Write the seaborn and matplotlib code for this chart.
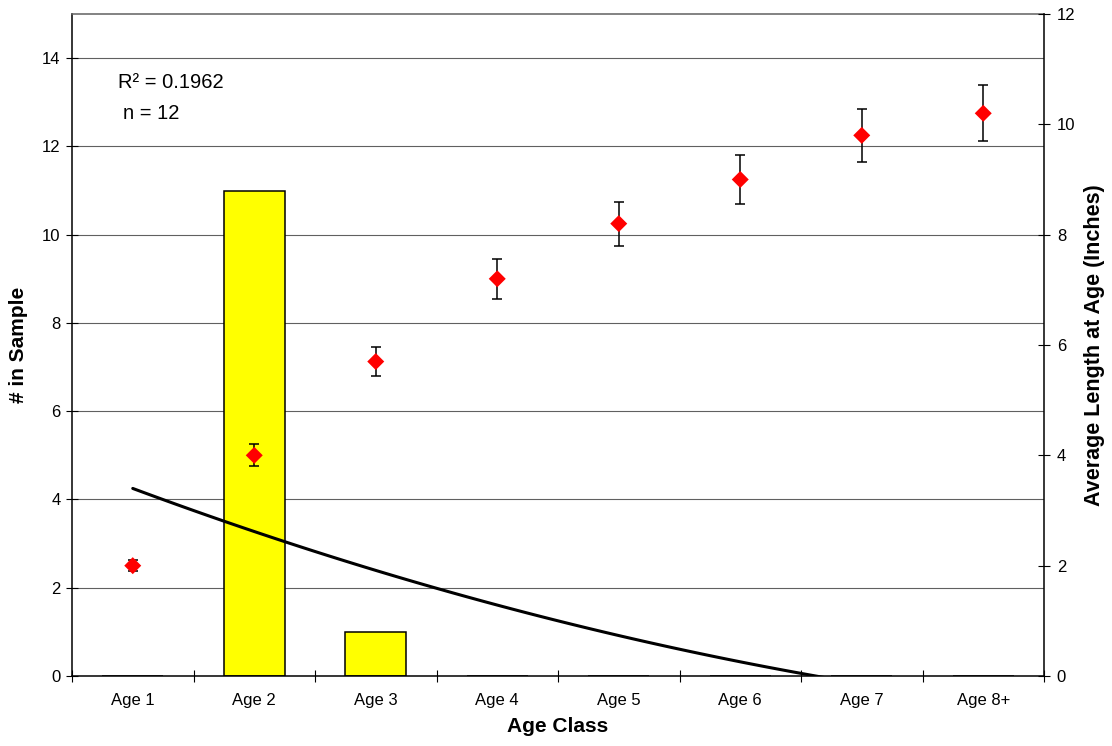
import numpy as np
import pandas as pd
import matplotlib.pyplot as plt
import seaborn as sns

# Age classes and sample counts (left axis)
ages = ['Age 1', 'Age 2', 'Age 3', 'Age 4', 'Age 5', 'Age 6', 'Age 7', 'Age 8+']
counts = [0, 11, 1, 0, 0, 0, 0, 0]

# Average length at age (right axis) with error
mean_length = [2.0, 4.0, 5.7, 7.2, 8.2, 9.0, 9.8, 10.2]
length_err = [0.1, 0.2, 0.27, 0.36, 0.4, 0.45, 0.48, 0.51]

r_squared = 0.1962
n_fish = 12

sns.set_style('white')
plt.rcParams['font.family'] = ['Liberation Sans', 'DejaVu Sans']
plt.rcParams.update({'text.color': 'black', 'axes.labelcolor': 'black',
                     'xtick.color': 'black', 'ytick.color': 'black'})

df = pd.DataFrame({
    'age': ages,
    'pos': np.arange(len(ages)),
    'count': counts,
    'length': mean_length,
    'err': length_err,
})

fig = plt.figure(figsize=(11.12, 7.46), dpi=100)
ax = fig.add_axes([72 / 1112, 70 / 746, 972 / 1112, 662 / 746])

# Bars + 2nd order trendline on counts
sns.barplot(data=df, x='age', y='count', color='#FFFF00', saturation=1,
            edgecolor='black', linewidth=1.1, width=0.5, errorbar=None,
            ax=ax, zorder=2)
sns.regplot(data=df, x='pos', y='count', order=2, ci=None, scatter=False,
            truncate=True, color='black', line_kws={'lw': 2.2, 'zorder': 3},
            ax=ax)

ax.set_xlim(-0.5, len(ages) - 0.5)
ax.set_ylim(0, 15)
ax.set_yticks(range(0, 15, 2))
ax.set_xticks(range(len(ages)))
ax.set_xticklabels(ages)
ax.set_xticks(np.arange(-0.5, len(ages), 1), minor=True)

ax.yaxis.grid(True, color='#606060', lw=0.8)
ax.set_axisbelow(True)

ax.tick_params(axis='y', left=True, direction='inout', length=8.5, width=0.8,
               color='black', labelsize=12, pad=4)
ax.tick_params(axis='x', which='major', bottom=True, length=0, pad=12,
               labelsize=12)
ax.tick_params(axis='x', which='minor', bottom=True, direction='inout',
               length=8, width=0.8, color='black')

for side in ['left', 'bottom']:
    ax.spines[side].set_color('black')
    ax.spines[side].set_linewidth(1.1)
ax.spines['top'].set_color('#606060')
ax.spines['top'].set_linewidth(1.1)
ax.spines['right'].set_visible(False)

ax.set_xlabel('Age Class', fontsize=15, fontweight='bold', labelpad=7)
ax.set_ylabel('# in Sample', fontsize=15, fontweight='bold', labelpad=10)

ax.text(0.047, 0.897, f'R\u00b2 = {r_squared}', transform=ax.transAxes,
        fontsize=14.5, va='center')
ax.text(0.0525, 0.849, f'n = {n_fish}', transform=ax.transAxes,
        fontsize=14.5, va='center')

# Length at age on secondary axis
ax2 = ax.twinx()
ax2.errorbar(df['pos'], df['length'], yerr=df['err'], fmt='none',
             ecolor='black', elinewidth=1.1, capsize=3.5, capthick=1.1,
             zorder=3)
sns.scatterplot(data=df, x='pos', y='length', marker='D', color='red', s=75,
                edgecolor='none', ax=ax2, zorder=4)
ax2.set_ylim(0, 12)
ax2.set_yticks(range(0, 13, 2))
ax2.tick_params(axis='y', right=True, direction='inout', length=8.5,
                width=0.8, color='black', labelsize=12, pad=5)
for side in ['left', 'bottom', 'top']:
    ax2.spines[side].set_visible(False)
ax2.spines['right'].set_color('black')
ax2.spines['right'].set_linewidth(1.1)
ax2.set_xlim(-0.5, len(ages) - 0.5)
ax2.set_ylabel('Average Length at Age (Inches)', fontsize=15.5,
               fontweight='bold', labelpad=6)
ax2.set_xlabel('')

fig.savefig('out.png', dpi=100)
